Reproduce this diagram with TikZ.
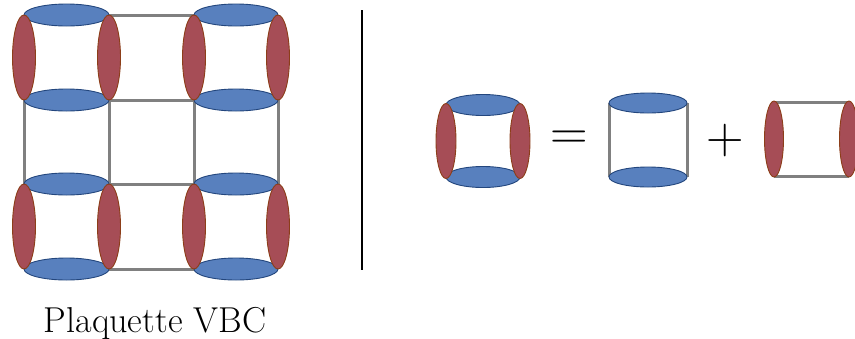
\documentclass[tikz,border=0pt]{standalone}
\usetikzlibrary{shapes.geometric}
\definecolor{bfill}{RGB}{88,128,190}
\definecolor{bline}{RGB}{35,70,125}
\definecolor{rfill}{RGB}{166,77,86}
\definecolor{rline}{RGB}{140,62,25}
\definecolor{glink}{RGB}{128,128,128}
\tikzset{
  blueell/.style={ellipse,draw=bline,fill=bfill,line width=0.9pt,inner sep=0pt},
  redell/.style={ellipse,draw=rline,fill=rfill,line width=0.9pt,inner sep=0pt},
  link/.style={draw=glink,line width=3pt},
  sep/.style={draw=black,line width=1.4pt},
  big/.style={font=\fontsize{52}{60}\selectfont,inner sep=0pt}
}
\begin{document}
\begin{tikzpicture}[x=1pt,y=-1pt]
\useasboundingbox (0,0) rectangle (855,338);
% grid coordinates
\foreach \i/\x in {0/24,1/109,2/194,3/278}{
  \foreach \j/\y in {0/15,1/100,2/184,3/269}{
    \coordinate (g\i\j) at (\x,\y);
  }
}
% grid lines
\foreach \j in {0,1,2,3}{ \draw[link] (g0\j) -- (g3\j); }
\foreach \i in {0,1,2,3}{ \draw[link] (g\i0) -- (g\i3); }
% plaquettes
\foreach \n/\xa/\xb/\ya/\yb in {a/24/109/15/100, b/194/278/15/100, c/24/109/184/269, d/194/278/184/269}{
  \pgfmathsetmacro{\xm}{(\xa+\xb)/2}
  \pgfmathsetmacro{\ym}{(\ya+\yb)/2}
  \pgfmathsetmacro{\w}{\xb-\xa}
  \pgfmathsetmacro{\h}{\yb-\ya}
  \node[blueell,minimum width=\w pt,minimum height=22pt] (\n t) at (\xm,\ya) {};
  \node[blueell,minimum width=\w pt,minimum height=22pt] (\n b) at (\xm,\yb) {};
  \node[redell,minimum width=23pt,minimum height=\h pt] (\n l) at (\xa,\ym) {};
  \node[redell,minimum width=23pt,minimum height=\h pt] (\n r) at (\xb,\ym) {};
}
% separator
\coordinate (s1) at (362,10);
\coordinate (s2) at (362,270);
\draw[sep] (s1) -- (s2);
% label
\node[font=\fontsize{36}{42}\selectfont,anchor=base,inner sep=0pt] (lab) at (155,332) {Plaquette VBC};
% right: full plaquette
\node[blueell,minimum width=74pt,minimum height=21pt] (pt) at (483,105) {};
\node[blueell,minimum width=74pt,minimum height=21pt] (pb) at (483,177) {};
\node[redell,minimum width=20pt,minimum height=75pt] (pl) at (446,141) {};
\node[redell,minimum width=20pt,minimum height=75pt] (pr) at (520,141) {};
% equals
\node[big] (eq) at (569,140) {=};
% vertical pair
\coordinate (v1) at (609,103);
\coordinate (v2) at (609,177);
\coordinate (v3) at (687,103);
\coordinate (v4) at (687,177);
\draw[link] (v1) -- (v2);
\draw[link] (v3) -- (v4);
\node[blueell,minimum width=78pt,minimum height=20pt] (mt) at (648,103) {};
\node[blueell,minimum width=78pt,minimum height=20pt] (mb) at (648,177) {};
% plus
\node[big] (pl2) at (725,141) {+};
% horizontal pair
\coordinate (h1) at (774,102);
\coordinate (h2) at (849,102);
\coordinate (h3) at (774,176);
\coordinate (h4) at (849,176);
\draw[link] (h1) -- (h2);
\draw[link] (h3) -- (h4);
\node[redell,minimum width=19pt,minimum height=76pt] (hl) at (774,139) {};
\node[redell,minimum width=19pt,minimum height=76pt] (hr) at (849,139) {};
\end{tikzpicture}
\end{document}
